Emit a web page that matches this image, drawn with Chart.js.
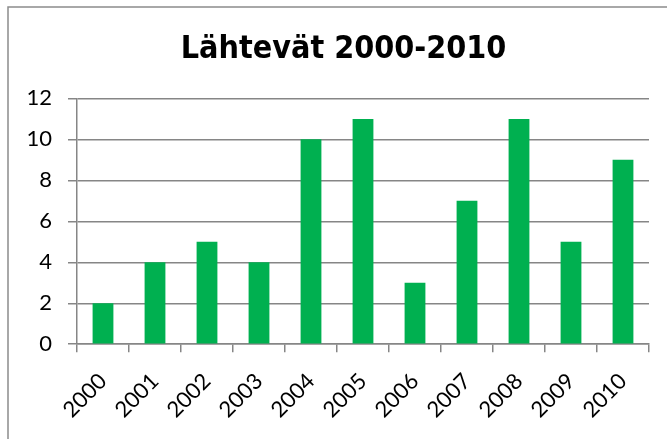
<!DOCTYPE html>
<html>
<head>
<meta charset="utf-8">
<script src="https://cdn.jsdelivr.net/npm/chart.js@4/dist/chart.umd.min.js"></script>
<style>
  html, body { margin: 0; padding: 0; background: #fff; overflow: hidden; }
  #wrap { width: 667px; height: 439px; position: relative; }
</style>
</head>
<body>
<div id="wrap"><canvas id="chart" width="667" height="439"></canvas></div>
<script>
// data
const years = ['2000', '2001', '2002', '2003', '2004', '2005', '2006', '2007', '2008', '2009', '2010'];
const departures = [2, 4, 5, 4, 10, 11, 3, 7, 11, 5, 9];
const yTicks = [0, 2, 4, 6, 8, 10, 12];

const gridGray = '#868686';

// outer frame of the chart object (runs off the right/bottom of the picture)
const framePlugin = {
  id: 'frame',
  beforeDraw(chart) {
    const ctx = chart.ctx;
    ctx.save();
    ctx.fillStyle = '#fff';
    ctx.fillRect(0, 0, chart.width, chart.height);
    ctx.strokeStyle = '#8c8c8c';
    ctx.lineWidth = 1.5;
    ctx.strokeRect(8, 7, chart.width + 20, chart.height + 20);
    ctx.restore();
  },
  // Excel centres the title inside the frame, a bit right of the canvas centre
  afterLayout(chart) {
    if (chart.titleBlock) {
      chart.titleBlock.left = 20;
      chart.titleBlock.right = chart.width;
    }
  }
};

new Chart(document.getElementById('chart').getContext('2d'), {
  type: 'bar',
  data: {
    labels: years,
    datasets: [{
      label: 'Lähtevät',
      data: departures,
      backgroundColor: '#00B050',
      borderWidth: 0,
      barPercentage: 0.4,
      categoryPercentage: 1.0,
    }],
  },
  options: {
    responsive: false,
    animation: false,
    layout: { padding: { left: 0, right: 18, top: 30, bottom: 0 } },
    plugins: {
      legend: { display: false },
      tooltip: { enabled: false },
      title: {
        display: true,
        text: 'Lähtevät 2000-2010',
        color: '#000',
        font: { family: '"DejaVu Sans Condensed", "DejaVu Sans"', size: 32, weight: 'bold' },
        padding: { top: 0, bottom: 30 },
      },
    },
    scales: {
      x: {
        grid: { display: true, drawOnChartArea: false, color: gridGray, lineWidth: 1.5, tickLength: 8, offset: true },
        border: { color: gridGray, width: 1.5 },
        ticks: { color: '#000', font: { family: 'Lato', size: 22 }, minRotation: 45, maxRotation: 45, padding: 16 },
      },
      y: {
        min: 0,
        max: 12,
        afterFit(scale) { scale.width = 77; },
        afterBuildTicks(scale) { scale.ticks = yTicks.map(v => ({ value: v })); },
        grid: { color: gridGray, lineWidth: 1.5, tickLength: 9 },
        border: { color: gridGray, width: 1.5 },
        ticks: { color: '#000', font: { family: 'Lato', size: 22 }, padding: 16 },
      },
    },
  },
  plugins: [framePlugin],
});
</script>
</body>
</html>
